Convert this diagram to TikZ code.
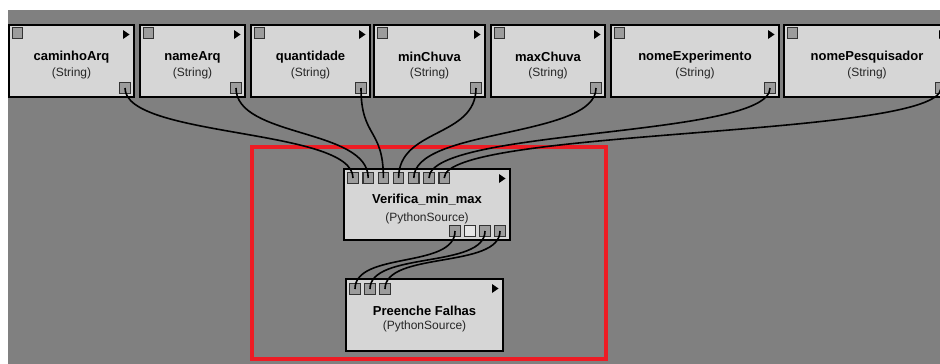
\documentclass[tikz,border=0pt]{standalone}
\usepackage{fontspec}
\setmainfont{Liberation Sans}
\definecolor{fundo}{HTML}{808080}
\definecolor{caixa}{HTML}{D6D6D6}
\definecolor{porta}{HTML}{9C9C9C}
\definecolor{vermelho}{HTML}{ED1C24}
\tikzset{
  modbox/.style={draw=black, line width=2pt, fill=caixa, inner sep=0pt, minimum height=72pt},
  modname/.style={font=\fontsize{13}{15}\selectfont\bfseries, inner sep=0pt},
  modtype/.style={font=\fontsize{12}{14}\selectfont, text=black!85, inner sep=0pt},
  porta/.style={draw=black!80, fill=porta, line width=1.2pt, minimum size=10.5pt, inner sep=0pt},
  portavazia/.style={porta, fill=caixa!60!white},
  fio/.style={line width=1.6pt, black}
}
\begin{document}
\begin{tikzpicture}[x=1pt, y=-1pt]
  \clip (0,0) rectangle (940,364);
  % Fundo
  \fill[white] (0,0) rectangle (940,364);
  \fill[fundo] (8,10) rectangle (940,364);
  % Destaque
  \draw[vermelho, line width=4pt] (252,147) rectangle (606,359);
  % Modulos de entrada
  \foreach \nome/\cx/\w in {caminhoArq/71.5/125, nameArq/192.5/105, quantidade/310.5/119,
      minChuva/429.5/111, maxChuva/548/114, nomeExperimento/695/168, nomePesquisador/867/166} {
    \node[modbox, minimum width=\w pt] (\nome) at (\cx,61) {};
    \node[modname] at ([yshift=-33pt]\nome.north) {\nome};
    \node[modtype] at ([yshift=-49pt]\nome.north) {(String)};
    \node[porta] (\nome-in) at ([xshift=9.5pt, yshift=-9pt]\nome.north west) {};
    \node[porta] (\nome-out) at ([xshift=-10pt, yshift=10pt]\nome.south east) {};
    \fill ([xshift=-12pt, yshift=-6pt]\nome.north east) -- ++(6.5,4.5) -- ++(-6.5,4.5) -- cycle;
  }
  % Verifica_min_max
  \node[modbox, minimum width=166pt, minimum height=71pt] (verifica) at (427,204.5) {};
  \node[modname] at ([yshift=-32pt]verifica.north) {Verifica\_min\_max};
  \node[modtype] at ([yshift=-50pt]verifica.north) {(PythonSource)};
  \fill ([xshift=-12pt, yshift=-6pt]verifica.north east) -- ++(6.5,4.5) -- ++(-6.5,4.5) -- cycle;
  \foreach \i in {1,...,7}
    \node[porta] (verifica-in-\i) at (353+15.2*\i-15.2,178) {};
  \node[porta] (verifica-out-1) at (455,231) {};
  \node[portavazia] (verifica-out-2) at (470,231) {};
  \node[porta] (verifica-out-3) at (485,231) {};
  \node[porta] (verifica-out-4) at (500,231) {};
  % Preenche Falhas
  \node[modbox, minimum width=157pt] (preenche) at (424.5,315) {};
  \node[modname] at ([yshift=-33pt]preenche.north) {Preenche Falhas};
  \node[modtype] at ([yshift=-48pt]preenche.north) {(PythonSource)};
  \fill ([xshift=-12pt, yshift=-6pt]preenche.north east) -- ++(6.5,4.5) -- ++(-6.5,4.5) -- cycle;
  \foreach \i in {1,2,3}
    \node[porta] (preenche-in-\i) at (355+15*\i-15,289) {};
  % Conexoes
  \foreach \nome/\i in {caminhoArq/1, nameArq/2, quantidade/3, minChuva/4,
      maxChuva/5, nomeExperimento/6, nomePesquisador/7}
    \draw[fio] (\nome-out.center) .. controls +(0,50) and +(0,-50) .. (verifica-in-\i.center);
  \draw[fio] (verifica-out-1.center) .. controls +(0,38) and +(0,-38) .. (preenche-in-1.center);
  \draw[fio] (verifica-out-3.center) .. controls +(0,38) and +(0,-38) .. (preenche-in-2.center);
  \draw[fio] (verifica-out-4.center) .. controls +(0,38) and +(0,-38) .. (preenche-in-3.center);
\end{tikzpicture}
\end{document}
